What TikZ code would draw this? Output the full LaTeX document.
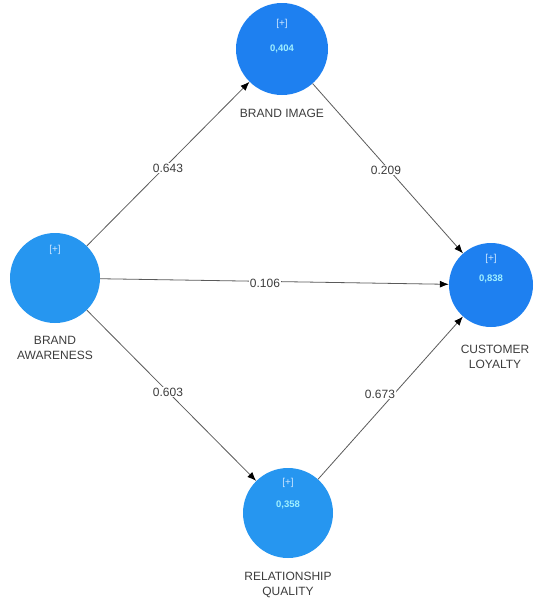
\documentclass[tikz,border=0pt]{standalone}
\usepackage{fontspec}
\setmainfont{Liberation Sans}
\usetikzlibrary{arrows.meta,calc}
\definecolor{darkblue}{RGB}{30,128,240}
\definecolor{lightblue}{RGB}{38,150,240}
\definecolor{plustxt}{RGB}{205,230,255}
\definecolor{valtxt}{RGB}{160,240,255}
\definecolor{labtxt}{RGB}{60,60,60}
\definecolor{linecol}{RGB}{90,90,90}
\tikzset{
  lv/.style={circle,minimum size=#1,inner sep=0pt},
  darklv/.style={lv=92pt,fill=darkblue},
  lightlv/.style={lv=90pt,fill=lightblue},
  plus/.style={font=\fontsize{10}{11}\selectfont,text=plustxt},
  val/.style={font=\bfseries\fontsize{9.5}{11}\selectfont,text=valtxt},
  lvname/.style={font=\fontsize{12}{15}\selectfont,text=labtxt,align=center},
  coef/.style={font=\fontsize{12}{13}\selectfont,text=labtxt,fill=white,inner sep=1pt},
  path/.style={draw=linecol,line width=0.8pt,-{Latex[length=9pt,width=7pt,color=black]}}
}
\begin{document}
\begin{tikzpicture}[x=1pt,y=-1pt]
\useasboundingbox (0,0) rectangle (534,598);
% latent variables
\node[darklv] (bi) at (282,49) {};
\node[lightlv] (ba) at (55,278) {};
\node[darklv,lv=84pt] (cl) at (491,285) {};
\node[lightlv] (rq) at (288,513) {};
% inner texts
\node[plus] (biplus) at (282,24) {[+]};
\node[val] (bival) at (282,49) {0,404};
\node[plus] (baplus) at (55,250) {[+]};
\node[plus] (clplus) at (491,259) {[+]};
\node[val] (clval) at (491,279) {0,838};
\node[plus] (rqplus) at (288,483) {[+]};
\node[val] (rqval) at (288,505) {0,358};
% names
\node[lvname] (biname) at (282,113) {BRAND IMAGE};
\node[lvname] (baname) at (55,348) {BRAND\\AWARENESS};
\node[lvname] (clname) at (495,357) {CUSTOMER\\LOYALTY};
\node[lvname] (rqname) at (288,585) {RELATIONSHIP\\QUALITY};
% paths
\draw[path] (ba) -- (bi);
\draw[path] (bi) -- (cl);
\draw[path] (ba) -- (cl);
\draw[path] (ba) -- (rq);
\draw[path] (rq) -- (cl);
% coefficients
\node[coef] (c1) at (168,168) {0.643};
\node[coef] (c2) at (386,170) {0.209};
\node[coef] (c3) at (265,283) {0.106};
\node[coef] (c4) at (168,392) {0.603};
\node[coef] (c5) at (380,394) {0.673};
\end{tikzpicture}
\end{document}
